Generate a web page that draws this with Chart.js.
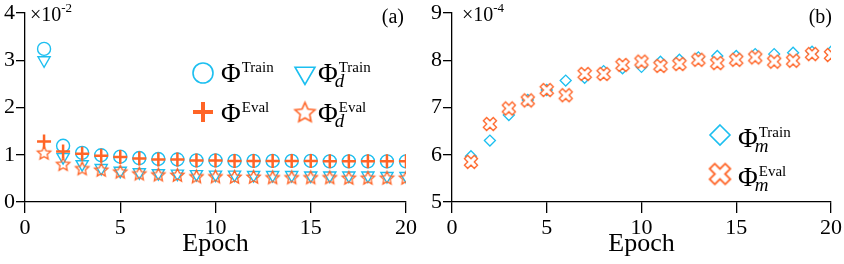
<!DOCTYPE html>
<html>
<head>
<meta charset="utf-8">
<script src="https://cdn.jsdelivr.net/npm/chart.js@4.4.1/dist/chart.umd.min.js"></script>
<style>
  html, body { margin: 0; padding: 0; background: #fff; }
  .panel { position: absolute; top: 0; width: 422px; height: 264px; }
</style>
</head>
<body>
<div class="panel" style="left:0"><canvas id="chartA"></canvas></div>
<div class="panel" style="left:422px"><canvas id="chartB"></canvas></div>
<script>
// epochs on the x axis
const epochs = [1, 2, 3, 4, 5, 6, 7, 8, 9, 10, 11, 12, 13, 14, 15, 16, 17, 18, 19, 20];

// panel (a), values in units of 1e-2
const phiTrain  = [3.24, 1.19, 1.04, 0.99, 0.96, 0.93, 0.91, 0.90, 0.88, 0.88, 0.87, 0.87, 0.87, 0.87, 0.87, 0.86, 0.86, 0.86, 0.86, 0.86];
const phiEval   = [1.28, 1.07, 1.02, 0.98, 0.95, 0.92, 0.90, 0.90, 0.88, 0.88, 0.87, 0.87, 0.87, 0.87, 0.87, 0.86, 0.86, 0.86, 0.86, 0.86];
const phiDTrain = [3.00, 0.95, 0.80, 0.72, 0.66, 0.63, 0.61, 0.60, 0.59, 0.58, 0.58, 0.57, 0.57, 0.57, 0.56, 0.56, 0.56, 0.56, 0.55, 0.55];
const phiDEval  = [1.03, 0.79, 0.70, 0.67, 0.63, 0.59, 0.57, 0.56, 0.53, 0.53, 0.52, 0.52, 0.51, 0.51, 0.51, 0.51, 0.50, 0.50, 0.50, 0.50];

// panel (b), values in units of 1e-4
const phiMTrain = [5.97, 6.30, 6.84, 7.16, 7.37, 7.57, 7.63, 7.77, 7.83, 7.86, 7.97, 8.01, 8.06, 8.09, 8.09, 8.13, 8.13, 8.16, 8.18, 8.18];
const phiMEval  = [5.85, 6.65, 6.98, 7.15, 7.37, 7.26, 7.71, 7.71, 7.90, 7.97, 7.88, 7.92, 8.01, 7.94, 8.01, 8.06, 7.97, 7.99, 8.13, 8.11];

const xTicks = [0, 5, 10, 15, 20];
const yTicksA = [0, 1, 2, 3, 4];
const yTicksB = [5, 6, 7, 8, 9];

const CYAN = '#1cbff0';
const ORANGE = '#ff6426';
const SERIF = '"Liberation Serif", "Times New Roman", serif';

const pts = (ys) => epochs.map((e, i) => ({ x: e, y: ys[i] }));

// hollow five point star
function starCanvas(R, lw) {
  const size = Math.ceil(2 * R + 2 * lw + 2);
  const c = document.createElement('canvas');
  c.width = c.height = size;
  const g = c.getContext('2d');
  const m = size / 2;
  g.beginPath();
  for (let i = 0; i < 10; i++) {
    const r = i % 2 ? R * 0.47 : R;
    const a = -Math.PI / 2 + i * Math.PI / 5;
    g.lineTo(m + r * Math.cos(a), m + r * Math.sin(a));
  }
  g.closePath();
  g.strokeStyle = ORANGE;
  g.lineWidth = lw;
  g.lineJoin = 'miter';
  g.stroke();
  return c;
}

// outlined thick x
function xCanvas(L, w, lw) {
  const ext = (L + w) / Math.SQRT2;
  const size = Math.ceil(2 * ext + 2 * lw + 2);
  const c = document.createElement('canvas');
  c.width = c.height = size;
  const g = c.getContext('2d');
  const m = size / 2;
  const plus = [[w, L], [w, w], [L, w], [L, -w], [w, -w], [w, -L], [-w, -L], [-w, -w], [-L, -w], [-L, w], [-w, w], [-w, L]];
  const k = Math.SQRT1_2;
  g.beginPath();
  plus.forEach(([px, py]) => g.lineTo(m + (px - py) * k, m + (px + py) * k));
  g.closePath();
  g.fillStyle = '#fff';
  g.fill();
  g.strokeStyle = ORANGE;
  g.lineWidth = lw;
  g.stroke();
  return c;
}

const starSmall = starCanvas(7, 1.3);
const starBig = starCanvas(10.5, 1.6);
const xSmall = xCanvas(7, 2.3, 1.3);
const xBig = xCanvas(11, 3.6, 1.8);

function drawMarker(g, kind, x, y) {
  g.save();
  g.lineWidth = 1.6;
  g.beginPath();
  if (kind === 'circle') {
    g.strokeStyle = CYAN;
    g.arc(x, y, 10, 0, Math.PI * 2);
    g.stroke();
  } else if (kind === 'plus') {
    g.strokeStyle = ORANGE;
    g.lineWidth = 4;
    g.moveTo(x - 10, y); g.lineTo(x + 10, y);
    g.moveTo(x, y - 10); g.lineTo(x, y + 10);
    g.stroke();
  } else if (kind === 'triangle') {
    const r = 11.5;
    g.strokeStyle = CYAN;
    g.moveTo(x, y + r);
    g.lineTo(x - r * 0.866, y - r / 2);
    g.lineTo(x + r * 0.866, y - r / 2);
    g.closePath();
    g.stroke();
  } else if (kind === 'diamond') {
    g.strokeStyle = CYAN;
    g.moveTo(x, y - 10); g.lineTo(x + 10, y); g.lineTo(x, y + 10); g.lineTo(x - 10, y);
    g.closePath();
    g.stroke();
  } else if (kind === 'star') {
    g.drawImage(starBig, x - starBig.width / 2, y - starBig.height / 2);
  } else if (kind === 'x') {
    g.drawImage(xBig, x - xBig.width / 2, y - xBig.height / 2);
  }
  g.restore();
}

function drawPhi(g, x, base, sup, sub) {
  g.save();
  g.fillStyle = '#000';
  g.textBaseline = 'alphabetic';
  g.textAlign = 'left';
  g.font = '27px ' + SERIF;
  g.fillText('\u03A6', x, base);
  const w = g.measureText('\u03A6').width;
  g.font = '15px ' + SERIF;
  g.fillText(sup, x + w + 1, base - 10);
  if (sub) {
    g.font = 'italic 19px ' + SERIF;
    g.fillText(sub, x + w - 3, base + 5);
  }
  g.restore();
}

function annotations(cfg) {
  return {
    id: 'annotations',
    afterDraw(chart) {
      const g = chart.ctx;
      g.save();
      g.fillStyle = '#000';
      g.textBaseline = 'alphabetic';
      // exponent note
      g.font = '20px ' + SERIF;
      g.fillText('\u00D710', cfg.expX, 21);
      const w = g.measureText('\u00D710').width;
      g.font = '13px ' + SERIF;
      g.fillText(cfg.exp, cfg.expX + w, 12);
      // panel tag
      g.font = '20px ' + SERIF;
      g.textAlign = 'right';
      g.fillText(cfg.tag, cfg.tagX, 23);
      g.restore();
      cfg.legend.forEach(it => {
        drawMarker(g, it.marker, it.mx, it.my);
        drawPhi(g, it.tx, it.base, it.sup, it.sub);
      });
    }
  };
}

function options(yMin, yMax, yTicks, yWidth, padRight) {
  return {
    responsive: true,
    maintainAspectRatio: false,
    animation: false,
    events: [],
    layout: { padding: { top: 13, right: padRight, left: 0, bottom: 0 } },
    plugins: { legend: { display: false }, tooltip: { enabled: false } },
    scales: {
      x: {
        type: 'linear',
        min: 0, max: 20,
        afterFit: (s) => { s.height = 62; },
        afterBuildTicks: (s) => { s.ticks = xTicks.map(v => ({ value: v })); },
        grid: { drawOnChartArea: false, tickLength: 11, color: '#000', lineWidth: 1.3 },
        border: { color: '#000', width: 1.3 },
        ticks: { color: '#000', padding: 2, maxRotation: 0, font: { family: SERIF, size: 22 } },
        title: { display: true, text: 'Epoch', color: '#000', padding: { top: 0, bottom: 4 }, font: { family: SERIF, size: 26 } }
      },
      y: {
        type: 'linear',
        min: yMin, max: yMax,
        afterFit: (s) => { s.width = yWidth; },
        afterBuildTicks: (s) => { s.ticks = yTicks.map(v => ({ value: v })); },
        grid: { drawOnChartArea: false, tickLength: 9, color: '#000', lineWidth: 1.3 },
        border: { color: '#000', width: 1.3 },
        ticks: { color: '#000', padding: 1, font: { family: SERIF, size: 22, lineHeight: 1 } }
      }
    }
  };
}

new Chart(document.getElementById('chartA'), {
  type: 'scatter',
  data: {
    datasets: [
      { label: 'PhiEval', data: pts(phiEval), pointStyle: 'cross', pointRadius: 7, borderWidth: 2.5, borderColor: ORANGE, order: 0 },
      { label: 'PhiDEval', data: pts(phiDEval), pointStyle: starSmall, borderColor: ORANGE, order: 0 },
      { label: 'PhiTrain', data: pts(phiTrain), pointStyle: 'circle', pointRadius: 6.5, borderWidth: 1.4, borderColor: CYAN, backgroundColor: 'rgba(0,0,0,0)', order: 1 },
      { label: 'PhiDTrain', data: pts(phiDTrain), pointStyle: 'triangle', rotation: 180, pointRadius: 7, borderWidth: 1.4, borderColor: CYAN, backgroundColor: 'rgba(0,0,0,0)', order: 1 }
    ]
  },
  options: options(0, 4, yTicksA, 25, 16),
  plugins: [annotations({
    expX: 30, exp: '-2', tag: '(a)', tagX: 404,
    legend: [
      { marker: 'circle', mx: 203, my: 73, tx: 221, base: 82, sup: 'Train' },
      { marker: 'plus', mx: 203, my: 112, tx: 221, base: 122, sup: 'Eval' },
      { marker: 'triangle', mx: 305, my: 73, tx: 318, base: 82, sup: 'Train', sub: 'd' },
      { marker: 'star', mx: 305, my: 113, tx: 318, base: 122, sup: 'Eval', sub: 'd' }
    ]
  })]
});

new Chart(document.getElementById('chartB'), {
  type: 'scatter',
  data: {
    datasets: [
      { label: 'PhiMEval', data: pts(phiMEval), pointStyle: xSmall, borderColor: ORANGE, order: 0 },
      { label: 'PhiMTrain', data: pts(phiMTrain), pointStyle: 'rectRot', pointRadius: 5.5, borderWidth: 1.3, borderColor: CYAN, backgroundColor: 'rgba(0,0,0,0)', order: 1 }
    ]
  },
  options: options(5, 9, yTicksB, 30, 12),
  plugins: [annotations({
    expX: 40, exp: '-4', tag: '(b)', tagX: 410,
    legend: [
      { marker: 'diamond', mx: 298, my: 135, tx: 316, base: 147, sup: 'Train', sub: 'm' },
      { marker: 'x', mx: 298, my: 174, tx: 316, base: 186, sup: 'Eval', sub: 'm' }
    ]
  })]
});
</script>
</body>
</html>
